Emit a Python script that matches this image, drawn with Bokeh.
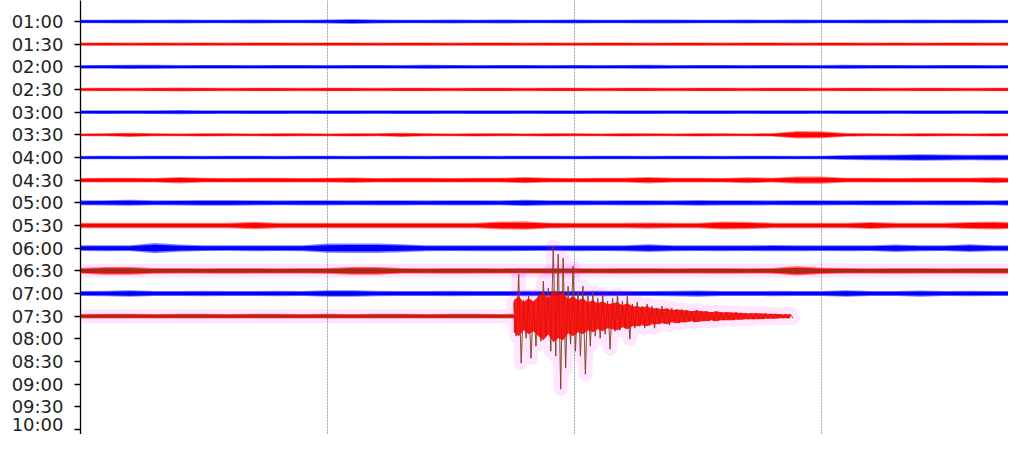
import numpy as np
from bokeh.plotting import figure
from bokeh.models import Range1d, FixedTicker, Grid
from bokeh.embed import file_html
from bokeh.resources import INLINE

# ---------------- data ----------------
TIME_LABELS = ["00:30", "01:00", "01:30", "02:00", "02:30", "03:00", "03:30",
               "04:00", "04:30", "05:00", "05:30", "06:00", "06:30", "07:00",
               "07:30", "08:00", "08:30", "09:00", "09:30", "10:00", "10:30"]

X_GRID_MIN = [5, 10, 15]                     # minute grid lines
SAMPLE_T = [0.5 * i for i in range(40)]      # envelope sample times (minutes)

# envelope half-amplitude of each helicorder row (counts)
E_0100 = [150,155,160,150,165,150,155,160,150,155,160,200,160,150,155,165,150,160,155,150,
          160,155,150,165,160,150,155,160,150,165,155,150,160,155,165,150,160,155,150,160]
E_0130 = [130,135,130,140,130,135,130,140,135,130,140,135,130,140,135,130,135,140,130,135,
          130,140,135,130,140,135,130,135,140,130,135,140,130,135,130,140,135,130,135,140]
E_0200 = [150,155,175,165,150,160,155,150,160,155,150,160,155,150,165,155,150,160,155,150,
          160,150,155,165,150,160,155,150,160,155,150,165,155,160,150,155,160,150,155,160]
E_0230 = [140,145,140,150,170,145,140,150,145,140,150,145,140,155,145,140,150,145,140,150,
          145,140,150,145,140,150,145,140,150,145,140,150,145,140,150,145,140,150,145,150]
E_0300 = [150,155,150,160,180,155,150,160,155,150,160,155,150,160,155,150,160,155,150,160,
          155,150,160,155,150,160,155,150,160,155,150,160,155,150,160,155,150,160,155,150]
E_0330 = [120,125,180,125,120,130,125,120,130,125,120,130,125,170,125,120,130,125,120,130,
          125,120,130,125,120,130,125,120,135,310,290,150,125,120,130,125,120,130,125,120]
E_0400 = [140,145,140,150,145,140,150,145,140,150,145,140,150,145,140,150,145,140,150,145,
          140,150,145,140,150,145,140,150,145,140,150,200,230,240,270,250,230,240,230,230]
E_0430 = [190,200,195,190,270,200,190,195,200,190,195,230,190,200,195,190,200,195,260,200,
          190,195,200,270,200,195,190,250,200,300,300,200,195,190,200,195,200,250,200,195]
E_0500 = [210,215,250,210,215,240,240,215,210,220,215,210,220,215,210,220,215,210,260,220,
          215,210,220,215,210,240,220,215,210,220,215,210,220,215,210,220,215,210,260,220]
E_0530 = [220,230,225,220,230,225,230,310,230,225,220,230,225,220,230,225,220,330,360,240,
          230,225,230,260,230,225,330,320,230,225,230,225,300,230,225,230,300,340,260,230]
E_0600 = [240,250,245,430,300,245,240,250,245,250,380,400,400,330,250,245,250,250,245,240,
          250,245,250,320,250,245,250,245,260,250,245,250,245,310,250,245,320,250,245,250]
E_0630 = [230,320,320,240,230,225,235,230,225,230,235,330,320,230,225,235,230,225,230,235,
          230,225,235,230,225,230,235,225,230,380,260,230,225,235,230,225,230,235,230,225]
E_0700 = [210,220,280,215,210,220,215,210,220,215,280,280,220,215,210,220,215,210,220,215,
          210,220,215,210,220,260,215,210,220,215,210,270,215,210,260,215,220,210,215,220]
E_0730 = [190,195,200,190,195,200,190,195,200,190,195,190,200,195,190,200,195,190,195]

# earthquake on the 07:30 row
QUAKE_START = 8.77          # minutes
QUAKE_DT = 0.05             # minutes between successive peaks
QUAKE_UP = [1400,4200,1600,2000,1400,2200,3500,2800,7000,6200,5800,3000,5000,2500,3000,2200,
            2500,1800,2200,1500,1800,2200,1500,2000,1200,1400,1000,1200,1000,800,1000,700,
            800,600,700,600,500,600,500,500,400,500,400,400,300,400,300,300,300,300,200,300,
            200,200,200,200,200]
QUAKE_DOWN = [2000,4700,2200,4200,3000,2500,2000,3500,4000,7300,5200,2800,3500,4000,5800,3000,
              2000,2200,1800,3300,1500,1400,1200,2300,1200,1000,1200,900,1200,800,700,900,
              600,700,600,500,600,500,400,500,500,400,400,300,400,300,300,300,300,200,300,
              200,200,200,200,200,200]
# dense core of the coda, one value per 0.1 min
QUAKE_CORE = [1600,2000,1400,1800,1500,2000,2400,1800,2600,2200,2400,1700,2000,1600,1800,1400,
              1600,1300,1500,1200,1300,1400,1100,1300,1000,1000,900,1000,800,800,700,800,
              600,700,600,600,500,600,500,500,400,500,400,400,400,350,350,300,300,300,300,250,
              250,250,200,200,200]

ROWS = [("01:00", E_0100), ("01:30", E_0130), ("02:00", E_0200), ("02:30", E_0230),
        ("03:00", E_0300), ("03:30", E_0330), ("04:00", E_0400), ("04:30", E_0430),
        ("05:00", E_0500), ("05:30", E_0530), ("06:00", E_0600), ("06:30", E_0630),
        ("07:00", E_0700), ("07:30", E_0730)]

# ---------------- style ----------------
COUNTS_PER_ROW = 2267.0
BLUE, RED, BROWN, HALO = "#0000ff", "#ff0000", "#7a4218", "#ff00ff"
HIGHLIGHT = {"06:30", "07:30"}

p = figure(width=1008, height=434, output_backend="svg", toolbar_location=None,
           x_range=Range1d(0, 18.785), y_range=Range1d(20.22, 1.0735),
           x_axis_location=None, y_axis_location="left",
           min_border_left=80, min_border_right=0, min_border_top=0, min_border_bottom=0)
p.outline_line_color = None
p.background_fill_color = "white"
p.ygrid.visible = False
p.add_layout(Grid(dimension=0, ticker=FixedTicker(ticks=X_GRID_MIN),
                  grid_line_color="#7a7a7a", grid_line_dash="1 2", grid_line_width=1))

ax = p.yaxis[0]
ax.ticker = FixedTicker(ticks=list(range(1, len(TIME_LABELS) + 1)))
ax.major_label_overrides = {i + 1: lab for i, lab in enumerate(TIME_LABELS)}
ax.major_label_text_font = "DejaVu Sans"
ax.major_label_text_font_size = "18px"
ax.major_label_text_color = "#222222"
ax.axis_line_color = "black"
ax.axis_line_width = 1.3
ax.major_tick_line_color = "black"
ax.major_tick_line_width = 1.3
ax.major_tick_out = 6
ax.major_tick_in = 0
ax.minor_tick_line_color = None
ax.major_label_standoff = 11

for lab, env in ROWS:
    k = TIME_LABELS.index(lab) + 1
    e = np.array(env, dtype=float) / COUNTS_PER_ROW
    if lab == "07:30":
        t = np.array(SAMPLE_T[:len(env) - 1] + [QUAKE_START])
    else:
        t = np.array(SAMPLE_T[:len(env)])
    if lab in HIGHLIGHT:
        if lab == "07:30":
            n = len(QUAKE_UP)
            qt = QUAKE_START + QUAKE_DT * np.arange(2 * n)
            qy = np.empty(2 * n)
            qy[0::2] = k - np.array(QUAKE_UP) / COUNTS_PER_ROW
            qy[1::2] = k + np.array(QUAKE_DOWN) / COUNTS_PER_ROW
            hx = np.concatenate([t, qt])
            hy = np.concatenate([np.full(len(t), k), qy])
        else:
            hx, hy = t, np.full(len(t), k)
        p.line(hx, hy, line_width=14, line_color=HALO, line_alpha=0.1,
               line_join="round", line_cap="round")
        p.varea(x=t, y1=k - 1.2 * e, y2=k + 1.2 * e, fill_color=RED, fill_alpha=0.55)
        p.varea(x=t, y1=k - 0.8 * e, y2=k + 0.8 * e, fill_color=RED, fill_alpha=1.0)
        p.varea(x=t, y1=k - 0.55 * e, y2=k + 0.55 * e, fill_color=BROWN, fill_alpha=0.75)
        if lab == "07:30":
            p.line(qt, qy, line_width=1.0, line_color=BROWN, line_alpha=0.85)
            ct = QUAKE_START + 2 * QUAKE_DT * np.arange(len(QUAKE_CORE))
            ce = np.array(QUAKE_CORE) / COUNTS_PER_ROW
            p.varea(x=ct, y1=k - ce, y2=k + ce, fill_color=RED, fill_alpha=0.9)
            p.line(qt, qy, line_width=0.6, line_color=BROWN, line_alpha=0.35)
    else:
        col = BLUE if lab.endswith(":00") else RED
        p.varea(x=t, y1=k - 1.2 * e, y2=k + 1.2 * e, fill_color=col, fill_alpha=0.5)
        p.varea(x=t, y1=k - 0.8 * e, y2=k + 0.8 * e, fill_color=col, fill_alpha=1.0)

open("out.html", "w").write(file_html(p, INLINE))
